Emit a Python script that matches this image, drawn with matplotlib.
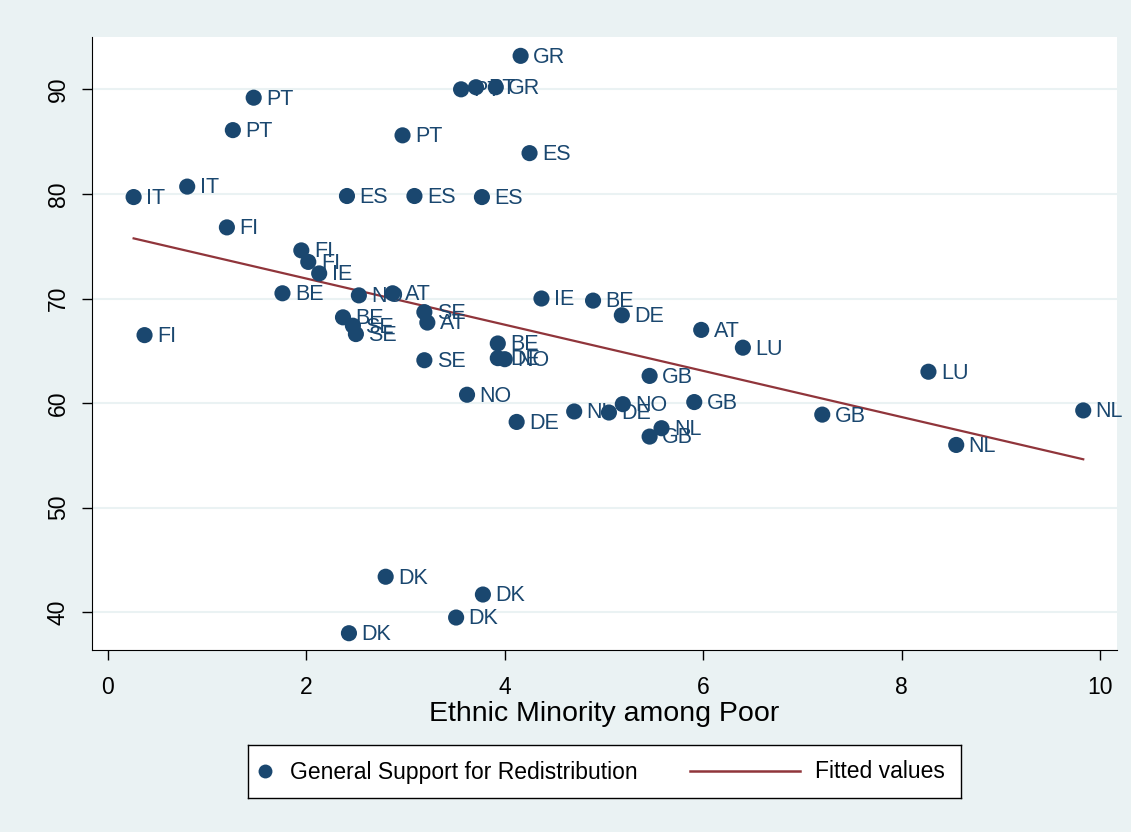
import numpy as np
import matplotlib
matplotlib.use("Agg")
import matplotlib.pyplot as plt

plt.rcParams['font.family'] = ['Liberation Sans', 'DejaVu Sans']

# Données
pays = ['GR', 'PT', 'PT', 'GR', 'PT', 'PT', 'PT', 'ES', 'IT', 'IT',
        'ES', 'ES', 'ES', 'FI', 'FI', 'FI', 'IE', 'BE', 'NO', 'AT',
        'SE', 'AT', 'SE', 'BE', 'SE', 'SE', 'FI', 'IE', 'BE', 'DE',
        'AT', 'LU', 'LU', 'NL', 'NL', 'GB', 'GB', 'GB', 'BE', 'DE',
        'NO', 'NO', 'DE', 'NL', 'DE', 'NO', 'NL', 'GB', 'DK', 'DK',
        'DK', 'DK']
minorite = [4.16, 3.56, 3.71, 3.91, 1.47, 1.26, 2.97, 4.25, 0.80, 0.26,
            2.41, 3.09, 3.77, 1.20, 1.95, 2.02, 2.13, 1.76, 2.53, 2.87,
            3.19, 3.22, 3.19, 2.37, 2.47, 2.50, 0.37, 4.37, 4.89, 5.18,
            5.98, 6.40, 8.27, 9.83, 8.55, 7.20, 5.91, 5.46, 3.93, 3.93,
            4.00, 3.62, 4.12, 4.70, 5.05, 5.19, 5.58, 5.46, 2.80, 3.78,
            3.51, 2.43]
soutien = [93.2, 90.0, 90.2, 90.2, 89.2, 86.1, 85.6, 83.9, 80.7, 79.7,
           79.8, 79.8, 79.7, 76.8, 74.6, 73.5, 72.4, 70.5, 70.3, 70.5,
           68.7, 67.7, 64.1, 68.2, 67.4, 66.6, 66.5, 70.0, 69.8, 68.4,
           67.0, 65.3, 63.0, 59.3, 56.0, 58.9, 60.1, 62.6, 65.7, 64.3,
           64.2, 60.8, 58.2, 59.2, 59.1, 59.9, 57.6, 56.8, 43.4, 41.7,
           39.5, 38.0]

# Droite ajustée
fit_x = [0.26, 9.83]
fit_y = [75.75, 54.63]

navy = '#1A476F'
maroon = '#90353B'
fond = '#EAF2F3'

fig = plt.figure(figsize=(11.31, 8.32), dpi=100, facecolor=fond)
ax = fig.add_axes([0.0813, 0.2188, 0.9063, 0.7367])
ax.set_facecolor('white')

for yv in [40, 50, 60, 70, 80, 90]:
    ax.axhline(yv, color=fond, lw=1.5, zorder=0)

ax.scatter(minorite, soutien, s=135, color=navy, zorder=3, edgecolors='none')
for x, y, p in zip(minorite, soutien, pays):
    ax.annotate(p, (x, y), xytext=(9, -1), textcoords='offset points',
                va='center', ha='left', fontsize=15.5, color=navy, zorder=4)

ax.plot(fit_x, fit_y, color=maroon, lw=1.6, zorder=2)

ax.set_xlim(-0.16, 10.17)
ax.set_ylim(36.4, 95.0)
ax.set_xticks([0, 2, 4, 6, 8, 10])
ax.set_yticks([40, 50, 60, 70, 80, 90])
ax.tick_params(axis='both', labelsize=16.5, length=7, width=1, color='black')
ax.tick_params(axis='x', pad=12)
ax.tick_params(axis='y', pad=9)
plt.setp(ax.get_yticklabels(), rotation=90, va='center')
ax.spines['top'].set_visible(False)
ax.spines['right'].set_visible(False)
ax.set_xlabel('Ethnic Minority among Poor', fontsize=20.5, labelpad=1)

# Légende dessinée à la main (marqueur à gauche comme dans Stata)
lax = fig.add_axes([248/1131, 1-798/832, 713/1131, 53/832])
lax.set_xlim(0, 713)
lax.set_ylim(0, 53)
lax.set_xticks([])
lax.set_yticks([])
lax.set_facecolor('white')
for s in lax.spines.values():
    s.set_color('black')
    s.set_linewidth(1)
lax.plot([17], [27], 'o', color=navy, markersize=10, markeredgewidth=0)
lax.text(42, 26, 'General Support for Redistribution', fontsize=16.5,
         va='center', ha='left', color='black')
lax.plot([442, 552], [27, 27], color=maroon, lw=1.8)
lax.text(567, 26, 'Fitted values', fontsize=16.5, va='center', ha='left',
         color='black')

fig.savefig('out.png', dpi=100, facecolor=fond)
